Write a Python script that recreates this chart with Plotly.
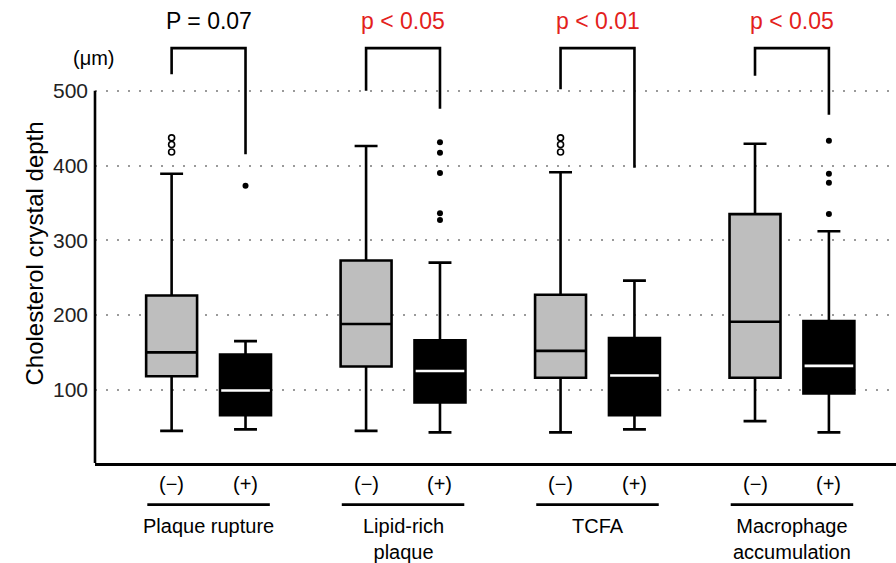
import plotly.graph_objects as go

# ---------------- data ----------------
groups = ["Plaque rupture", "Lipid-rich<br>plaque", "TCFA", "Macrophage<br>accumulation"]
sub_labels = ["(−)", "(+)"]
p_labels = ["P = 0.07", "p < 0.05", "p < 0.01", "p < 0.05"]
p_colors = ["black", "#e3211c", "#e3211c", "#e3211c"]

neg_q1 = [118, 131, 116, 116]
neg_median = [150, 188, 152, 191]
neg_q3 = [226, 273, 227, 335]
neg_lower = [45, 45, 43, 58]
neg_upper = [389, 426, 391, 429]
neg_outliers = [[418, 428, 437], [], [418, 428, 437], []]

pos_q1 = [66, 83, 66, 95]
pos_median = [99, 125, 119, 132]
pos_q3 = [147, 166, 169, 192]
pos_lower = [47, 43, 47, 43]
pos_upper = [165, 270, 246, 312]
pos_outliers = [[373], [327, 336, 390, 417, 431], [], [335, 377, 389, 433]]

bracket_top = [557, 557, 557, 557]
bracket_left_end = [522, 500, 502, 520]
bracket_right_end = [415, 476, 397, 468]

y_ticks = [100, 200, 300, 400, 500]

# ---------------- layout helpers ----------------
OFF = 0.19      # offset of (-)/(+) box from group centre
BW = 0.262      # box width (x units)
FONT = "Arial, Liberation Sans, sans-serif"

gx = list(range(len(groups)))
neg_x = [g - OFF for g in gx]
pos_x = [g + OFF for g in gx]

fig = go.Figure()

fig.add_trace(go.Box(
    x=neg_x, q1=neg_q1, median=neg_median, q3=neg_q3,
    lowerfence=neg_lower, upperfence=neg_upper,
    width=BW, whiskerwidth=0.45, boxpoints=False,
    fillcolor="#bebebe", line=dict(color="black", width=2.6),
    showlegend=False, hoverinfo="skip"))

fig.add_trace(go.Box(
    x=pos_x, q1=pos_q1, median=pos_median, q3=pos_q3,
    lowerfence=pos_lower, upperfence=pos_upper,
    width=BW, whiskerwidth=0.45, boxpoints=False,
    fillcolor="black", line=dict(color="black", width=2.6),
    showlegend=False, hoverinfo="skip"))

# white median line on black boxes
mx, my = [], []
for x, m in zip(pos_x, pos_median):
    mx += [x - BW / 2 + 0.006, x + BW / 2 - 0.006, None]
    my += [m, m, None]
fig.add_trace(go.Scatter(x=mx, y=my, mode="lines",
                         line=dict(color="white", width=2.6),
                         showlegend=False, hoverinfo="skip"))

# outliers
ox, oy = [], []
for x, vals in zip(neg_x, neg_outliers):
    ox += [x] * len(vals)
    oy += vals
fig.add_trace(go.Scatter(x=ox, y=oy, mode="markers",
                         marker=dict(symbol="circle", size=6, color="white",
                                     line=dict(color="black", width=1.6)),
                         showlegend=False, hoverinfo="skip"))
ox, oy = [], []
for x, vals in zip(pos_x, pos_outliers):
    ox += [x] * len(vals)
    oy += vals
fig.add_trace(go.Scatter(x=ox, y=oy, mode="markers",
                         marker=dict(symbol="circle", size=6, color="black"),
                         showlegend=False, hoverinfo="skip"))

# brackets
bx, by = [], []
for xl, xr, t, le, re in zip(neg_x, pos_x, bracket_top, bracket_left_end, bracket_right_end):
    bx += [xl, xl, xr, xr, None]
    by += [le, t, t, re, None]
fig.add_trace(go.Scatter(x=bx, y=by, mode="lines",
                         line=dict(color="black", width=2.6),
                         showlegend=False, hoverinfo="skip"))

annotations = []
shapes = []
for g, lab, pl, pc in zip(gx, groups, p_labels, p_colors):
    annotations.append(dict(x=g, y=593, xref="x", yref="y", text=pl, showarrow=False,
                            font=dict(family=FONT, size=23, color=pc)))
    for dx, s in zip([-OFF, OFF], sub_labels):
        annotations.append(dict(x=g + dx, y=-0.045, xref="x", yref="paper", text=s,
                                showarrow=False, yanchor="middle",
                                font=dict(family=FONT, size=20, color="black")))
    shapes.append(dict(type="line", xref="x", yref="paper", x0=g - 0.315, x1=g + 0.315,
                       y0=-0.09, y1=-0.09, line=dict(color="black", width=2.6)))
    annotations.append(dict(x=g, y=-0.107, xref="x", yref="paper", text=lab,
                            showarrow=False, yanchor="top",
                            font=dict(family=FONT, size=20, color="black")))

# left spine up to 500
shapes.append(dict(type="line", xref="paper", yref="y", x0=0, x1=0, y0=2, y1=500,
                   line=dict(color="black", width=2.6)))

annotations.append(dict(x=(71 - 95) / 801, y=1 - 45 / 463, xref="paper", yref="paper",
                        text="(μm)", showarrow=False,
                        font=dict(family=FONT, size=20, color="black")))

annotations.append(dict(x=-77 / 801, y=1 - 254 / 463, xref="paper", yref="paper",
                        text="Cholesterol crystal depth", textangle=-90, showarrow=False,
                        font=dict(family=FONT, size=24, color="black")))

fig.update_layout(
    width=896, height=563,
    margin=dict(l=95, r=0, t=0, b=100),
    paper_bgcolor="white", plot_bgcolor="white",
    boxmode="overlay",
    showlegend=False,
    annotations=annotations,
    shapes=shapes,
    font=dict(family=FONT, color="black"),
    xaxis=dict(range=[-0.584, 3.535], showticklabels=False, showgrid=False,
               zeroline=False, showline=True, linecolor="black", linewidth=2.6,
               ticks=""),
    yaxis=dict(range=[2, 621.4], tickvals=y_ticks, ticktext=[str(v) for v in y_ticks],
               showgrid=True, gridcolor="#9a9a9a", gridwidth=2.2, griddash="2px,9px",
               zeroline=False, showline=False, ticks="",
               tickfont=dict(family=FONT, size=21, color="#222"),
               ticklabelstandoff=6),
)

fig.write_html("out.html", config={"displayModeBar": False},
               post_script="document.body.style.margin='0';document.body.style.overflow='hidden';")
